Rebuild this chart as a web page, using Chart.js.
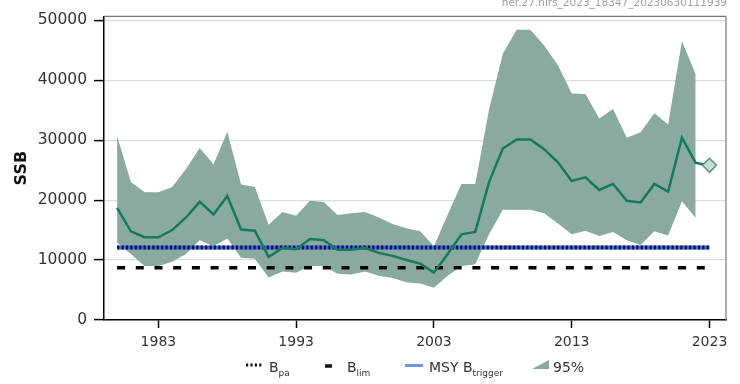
<!DOCTYPE html>
<html>
<head>
<meta charset="utf-8">
<script src="https://cdn.jsdelivr.net/npm/chart.js@4"></script>
<style>
  body { margin: 0; background: #fff; font-family: "DejaVu Sans", sans-serif; }
  #wrap { position: relative; width: 740px; height: 384px; overflow: hidden; }
  #mark { position: absolute; right: 13px; top: -4px; font-size: 10.5px; color: #a0a0a0; }
  #legend { position: absolute; top: 359px; left: 0; width: 740px; height: 24px; font-size: 14px; color: #333; }
  #legend span { position: absolute; top: 0; }
  #legend sub { font-size: 9px; vertical-align: -4px; }
</style>
</head>
<body>
<div id="wrap">
  <canvas id="ssbChart" width="740" height="384"></canvas>
  <div id="mark">her.27.nirs_2023_18347_20230630111939</div>
  <div id="legend">
    <canvas id="legendIcons" width="740" height="24" style="position:absolute;left:0;top:0"></canvas>
    <span style="left:269px">B<sub>pa</sub></span>
    <span style="left:347px">B<sub>lim</sub></span>
    <span style="left:429px">MSY B<sub>trigger</sub></span>
    <span style="left:553px">95%</span>
  </div>
</div>
<script>
// years of the assessment
const years = [1980, 1981, 1982, 1983, 1984, 1985, 1986, 1987, 1988, 1989,
               1990, 1991, 1992, 1993, 1994, 1995, 1996, 1997, 1998, 1999,
               2000, 2001, 2002, 2003, 2004, 2005, 2006, 2007, 2008, 2009,
               2010, 2011, 2012, 2013, 2014, 2015, 2016, 2017, 2018, 2019,
               2020, 2021, 2022, 2023];

// SSB estimate (last year is the forecast point)
const ssb = [18700, 14800, 13800, 13800, 15000, 17100, 19700, 17600, 20700, 15100,
             14900, 10500, 12000, 11800, 13500, 13300, 11700, 11700, 12000, 11200,
             10700, 10000, 9400, 7900, 11000, 14300, 14700, 23000, 28600, 30100,
             30100, 28500, 26300, 23200, 23800, 21700, 22700, 19900, 19600, 22700,
             21400, 30400, 26200, 25800];

// 95% interval (1980 - 2022)
const ssbHigh = [30700, 23000, 21300, 21300, 22200, 25200, 28700, 26000, 31400, 22600,
                 22200, 15900, 18000, 17400, 19900, 19700, 17500, 17800, 18000, 17100,
                 16000, 15300, 14800, 12300, 17600, 22700, 22700, 35100, 44400, 48400,
                 48400, 45800, 42500, 37800, 37700, 33600, 35200, 30400, 31300, 34500,
                 32600, 46500, 41000];
const ssbLow = [12900, 11000, 9000, 9000, 9700, 11000, 13300, 12300, 13600, 10400,
                10200, 7100, 8100, 7900, 9000, 9000, 7700, 7600, 8100, 7400,
                7000, 6300, 6100, 5400, 7400, 9000, 9300, 14300, 18400, 18400,
                18400, 17800, 16100, 14300, 14900, 14000, 14700, 13300, 12500, 14800,
                14100, 19800, 17000];

// reference points
const Bpa = 12100;
const Blim = 8700;
const MSYBtrigger = 12100;

const xTicks = [1983, 1993, 2003, 2013, 2023];
const yTicks = [0, 10000, 20000, 30000, 40000, 50000];

const bandColor = 'rgb(138,170,161)';
const lineColor = '#15795e';

function pts(vals) {
    return vals.map((v, i) => ({ x: years[i], y: v }));
}
function flat(v) {
    return years.map(y => ({ x: y, y: v }));
}

// grey top and right frame lines
const framePlugin = {
    id: 'frame',
    afterDraw(chart) {
        const a = chart.chartArea;
        const ctx = chart.ctx;
        ctx.save();
        ctx.strokeStyle = '#777';
        ctx.lineWidth = 1.2;
        ctx.beginPath();
        ctx.moveTo(a.left, a.top);
        ctx.lineTo(a.right, a.top);
        ctx.lineTo(a.right, a.bottom);
        ctx.stroke();
        ctx.restore();
    }
};

const ctx = document.getElementById('ssbChart').getContext('2d');
new Chart(ctx, {
    type: 'line',
    data: {
        datasets: [
            {
                label: 'low',
                data: pts(ssbLow),
                borderWidth: 0,
                pointRadius: 0,
                fill: false,
                order: 10
            },
            {
                label: '95%',
                data: pts(ssbHigh),
                borderWidth: 0,
                pointRadius: 0,
                backgroundColor: bandColor,
                fill: '-1',
                order: 9
            },
            {
                label: 'MSY Btrigger',
                data: flat(MSYBtrigger),
                borderColor: '#3e6ee0',
                borderWidth: 4,
                pointRadius: 0,
                fill: false,
                order: 4
            },
            {
                label: 'Bpa',
                data: flat(Bpa),
                borderColor: '#0a1245',
                borderWidth: 4,
                borderDash: [2.2, 2.2],
                pointRadius: 0,
                fill: false,
                order: 3
            },
            {
                label: 'Blim',
                data: flat(Blim),
                borderColor: '#000',
                borderWidth: 3.5,
                borderDash: [8, 10.7],
                pointRadius: 0,
                fill: false,
                order: 3
            },
            {
                label: 'SSB',
                data: pts(ssb),
                borderColor: lineColor,
                borderWidth: 2.5,
                pointRadius: ssb.map((v, i) => i === ssb.length - 1 ? 7 : 0),
                pointStyle: 'rectRot',
                pointBackgroundColor: '#c5dbd3',
                pointBorderColor: '#5d9284',
                pointBorderWidth: 1.5,
                fill: false,
                order: 1
            }
        ]
    },
    options: {
        responsive: false,
        animation: false,
        layout: { padding: { top: 12, right: 14, left: 0, bottom: 0 } },
        plugins: {
            legend: { display: false },
            tooltip: { enabled: false }
        },
        scales: {
            x: {
                type: 'linear',
                min: 1979.05,
                max: 2024.2,
                afterBuildTicks(scale) {
                    scale.ticks = xTicks.map(v => ({ value: v }));
                },
                afterFit(scale) { scale.height = 64; },
                ticks: {
                    color: '#333',
                    font: { family: 'DejaVu Sans', size: 14 },
                    padding: 6,
                    maxRotation: 0,
                    callback: v => String(v)
                },
                grid: {
                    drawOnChartArea: false,
                    drawTicks: true,
                    tickLength: 8,
                    tickColor: '#000',
                    tickWidth: 1.5
                },
                border: { color: '#000', width: 1.5 }
            },
            y: {
                min: 0,
                max: 50660,
                afterBuildTicks(scale) {
                    scale.ticks = yTicks.map(v => ({ value: v }));
                },
                afterFit(scale) { scale.width = 104; },
                ticks: {
                    color: '#333',
                    font: { family: 'DejaVu Sans', size: 15.5 },
                    padding: 7,
                    callback: v => String(v)
                },
                grid: {
                    color: '#dcdcdc',
                    lineWidth: 1.2,
                    drawTicks: true,
                    tickLength: 10,
                    tickColor: '#000',
                    tickWidth: 1.5
                },
                border: { color: '#000', width: 1.5 },
                title: {
                    display: true,
                    text: 'SSB',
                    color: '#111',
                    font: { family: 'DejaVu Sans', size: 16, weight: 'bold' },
                    padding: { top: 12, bottom: 0 }
                }
            }
        }
    },
    plugins: [framePlugin]
});

// legend symbols
const lg = document.getElementById('legendIcons').getContext('2d');
lg.lineCap = 'butt';
// Bpa dotted
lg.strokeStyle = '#111';
lg.lineWidth = 3;
lg.setLineDash([2.2, 2.2]);
lg.beginPath(); lg.moveTo(246, 6); lg.lineTo(263, 6); lg.stroke();
// Blim short dash
lg.setLineDash([]);
lg.lineWidth = 3.5;
lg.beginPath(); lg.moveTo(325, 7); lg.lineTo(332, 7); lg.stroke();
// MSY Btrigger blue line
lg.strokeStyle = '#6f94ef';
lg.lineWidth = 3;
lg.beginPath(); lg.moveTo(405, 6.5); lg.lineTo(423, 6.5); lg.stroke();
// 95% band wedge
lg.fillStyle = bandColor;
lg.beginPath();
lg.moveTo(532, 10); lg.lineTo(549, 1); lg.lineTo(549, 10); lg.closePath();
lg.fill();
</script>
</body>
</html>
